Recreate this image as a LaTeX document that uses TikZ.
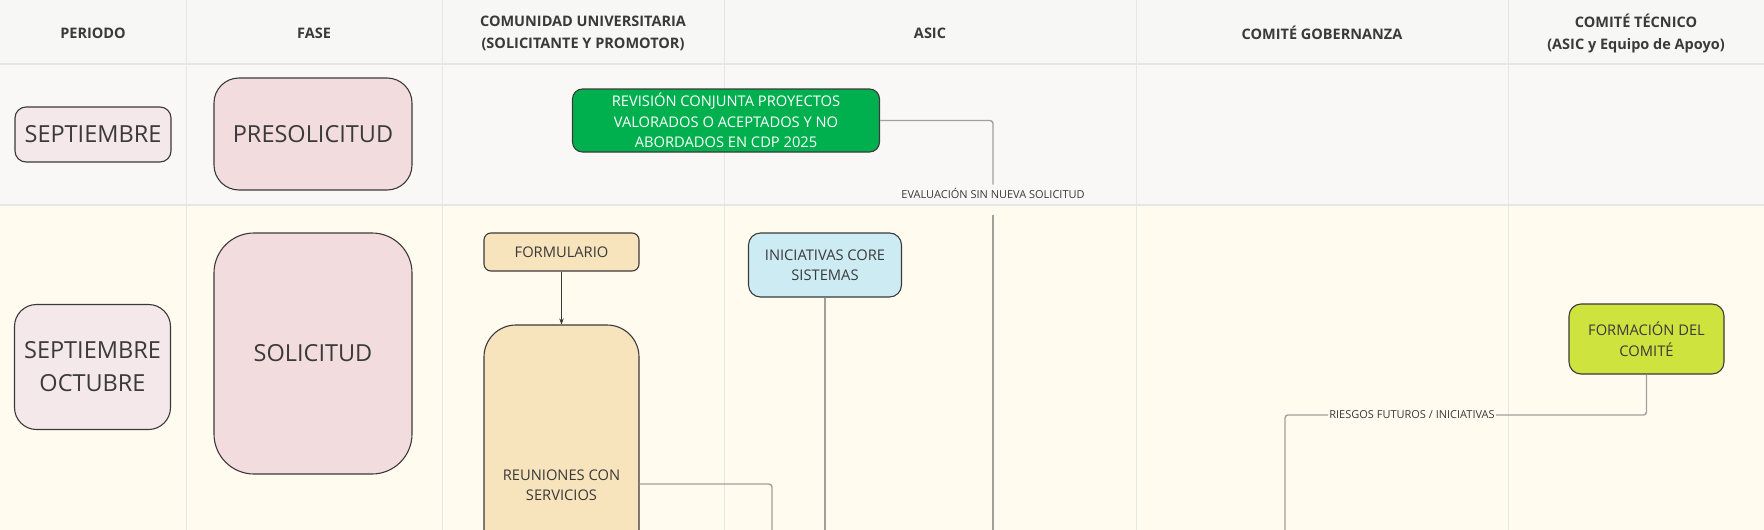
\documentclass[tikz,border=0pt]{standalone}
\usepackage{fontspec}
\setmainfont{Open Sans}
\usetikzlibrary{arrows.meta}

\definecolor{cabecera}{HTML}{F7F7F6}
\definecolor{fila1}{HTML}{F9F8F7}
\definecolor{fila2}{HTML}{FFFBEF}
\definecolor{rejilla}{HTML}{E6E6E3}
\definecolor{rosa1}{HTML}{F4E8EA}
\definecolor{rosa2}{HTML}{F2DCDE}
\definecolor{verde}{HTML}{00B04F}
\definecolor{arena}{HTML}{F7E3BC}
\definecolor{celeste}{HTML}{CDEBF3}
\definecolor{lima}{HTML}{CFE33F}
\definecolor{texto}{HTML}{3A3A3A}
\definecolor{conector}{HTML}{A0A09C}

\begin{document}
\begin{tikzpicture}[x=1pt, y=-1pt,
  caja/.style={draw=texto, line width=1.1pt, rounded corners=#1, align=center,
    text=texto, inner sep=0pt},
  caja/.default=8pt,
  titulo/.style={font=\fontsize{14.5}{22}\selectfont\bfseries, text=texto, align=center},
  grande/.style={font=\fontsize{23.5}{33}\selectfont},
  medio/.style={font=\fontsize{14.7}{20.5}\selectfont},
  etiqueta/.style={font=\fontsize{11}{12}\selectfont, text=texto, inner sep=1pt},
  conector/.style={draw=conector, line width=1.4pt, rounded corners=3pt}]

  \useasboundingbox (0,0) rectangle (1764,530);
  \clip (0,0) rectangle (1764,530);

  % fondos de las filas
  \fill[cabecera] (0,0) rectangle (1764,64);
  \fill[fila1] (0,64) rectangle (1764,205);
  \fill[fila2] (0,205) rectangle (1764,530);

  % rejilla
  \foreach \x in {186,442,724.5,1136,1508.5}
    \draw[rejilla, line width=1pt] (\x,0) -- (\x,530);
  \foreach \y in {64,205}
    \draw[rejilla, line width=2pt] (0,\y) -- (1764,\y);

  % cabecera
  \node[titulo] (hper) at (93,33)   {PERIODO};
  \node[titulo] (hfas) at (314,33)  {FASE};
  \node[titulo] (hcom) at (583,33)  {COMUNIDAD UNIVERSITARIA\\(SOLICITANTE Y PROMOTOR)};
  \node[titulo] (hasi) at (930,33)  {ASIC};
  \node[titulo] (hgob) at (1322,33) {COMITÉ GOBERNANZA};
  \node[titulo] (htec) at (1636,33) {COMITÉ TÉCNICO\\(ASIC y Equipo de Apoyo)};

  % periodo y fase
  \node[caja=11pt, grande, fill=rosa1, minimum width=156, minimum height=55]
    (sep) at (93,134.5) {SEPTIEMBRE};
  \node[caja=22pt, grande, fill=rosa1, minimum width=156, minimum height=125]
    (sepoct) at (92.5,367) {SEPTIEMBRE\\OCTUBRE};
  \node[caja=25pt, grande, fill=rosa2, minimum width=198, minimum height=112]
    (presol) at (313,134) {PRESOLICITUD};
  \node[caja=40pt, grande, fill=rosa2, minimum width=198, minimum height=241]
    (sol) at (313,353.5) {SOLICITUD};

  % tareas
  \node[caja=10pt, medio, fill=verde, text=white, minimum width=307, minimum height=63]
    (rev) at (726,120.5) {REVISIÓN CONJUNTA PROYECTOS\\VALORADOS O ACEPTADOS Y NO\\ABORDADOS EN CDP 2025};
  \node[caja=7pt, medio, fill=arena, minimum width=155, minimum height=38]
    (form) at (561.5,252) {FORMULARIO};
  \node[caja=32pt, medio, fill=arena, minimum width=155, minimum height=320]
    (reun) at (561.5,485) {REUNIONES CON\\SERVICIOS};
  \node[caja=12pt, medio, fill=celeste, minimum width=153, minimum height=64]
    (inic) at (825,265) {INICIATIVAS CORE\\SISTEMAS};
  \node[caja=12pt, medio, fill=lima, minimum width=155, minimum height=70]
    (fcom) at (1646.5,339) {FORMACIÓN DEL\\COMITÉ};

  % etiquetas de los conectores
  \node[etiqueta] (eval) at (993,193) {EVALUACIÓN SIN NUEVA SOLICITUD};
  \node[etiqueta, fill=fila2] (ries) at (1412,415) {RIESGOS FUTUROS / INICIATIVAS};

  \coordinate (evalfin) at (993,540);
  \coordinate (reunfin) at (772,540);
  \coordinate (inicfin) at (825,540);
  \coordinate (riesfin) at (1285,540);

  % conectores
  \draw[-{Stealth[length=6pt,width=4.5pt]}, texto, line width=0.7pt] (form) -- (reun);
  \draw[conector] (rev.east) -| ([yshift=2pt]eval.north);
  \draw[conector, line width=2.2pt] ([yshift=-16pt]eval.south) -- (evalfin);
  \draw[conector] (reun.east |- 0,484) -| (reunfin);
  \draw[conector] (inic) -- (inicfin);
  \draw[conector] (fcom) |- (ries);
  \draw[conector] (ries) -| (riesfin);
\end{tikzpicture}
\end{document}
